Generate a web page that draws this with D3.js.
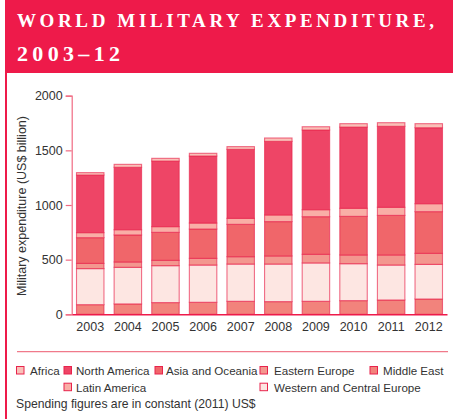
<!DOCTYPE html>
<html>
<head>
<meta charset="utf-8">
<script src="https://cdn.jsdelivr.net/npm/d3@7"></script>
<style>
  body { margin: 0; background: #fff; }
  text { font-family: "Liberation Sans", Arial, sans-serif; fill: #333; }
</style>
</head>
<body>
<div id="chart"></div>
<script>
// years and regional spending (US$ billion, constant 2011)
const years = ["2003","2004","2005","2006","2007","2008","2009","2010","2011","2012"];
const middleEast   = [88, 95, 107, 110, 119, 116, 119, 125, 131, 140];
const westEurope   = [330, 335, 338, 341, 341, 344, 351, 338, 320, 317];
const eastEurope   = [48, 49, 49, 61, 67, 74, 79, 80, 92, 101];
const asiaOceania  = [235, 247, 256, 268, 296, 314, 344, 353, 362, 381];
const latinAmerica = [46, 48, 52, 55, 55, 61, 64, 74, 74, 73];
const northAmerica = [527, 571, 600, 613, 631, 673, 729, 743, 741, 695];
const africa       = [22, 27, 25, 25, 25, 31, 30, 31, 33, 37];
const yTicks = [0, 500, 1000, 1500, 2000];

// stacking order bottom -> top
const seriesList = [
  {key: "Middle East", values: middleEast, color: "#f2837c"},
  {key: "Western and Central Europe", values: westEurope, color: "#fde6e2"},
  {key: "Eastern Europe", values: eastEurope, color: "#f3978f"},
  {key: "Asia and Oceania", values: asiaOceania, color: "#f0666a"},
  {key: "Latin America", values: latinAmerica, color: "#f9aea6"},
  {key: "North America", values: northAmerica, color: "#ee4566"},
  {key: "Africa", values: africa, color: "#f9c0b8"}
];

const W = 453, H = 419;
const red = "#ee1a4a";

const svg = d3.select("#chart").append("svg")
    .attr("width", W)
    .attr("height", H);

// header
svg.append("rect")
    .attr("x", 5).attr("y", 0)
    .attr("width", W - 5).attr("height", 73)
    .attr("fill", red);
svg.append("line")
    .attr("x1", 6).attr("x2", 6)
    .attr("y1", 0).attr("y2", H)
    .attr("stroke", red).attr("stroke-width", 2);

svg.append("text")
    .attr("x", 17).attr("y", 27)
    .attr("textLength", 417).attr("lengthAdjust", "spacing")
    .style("font-family", "'Liberation Serif', 'DejaVu Serif', serif")
    .style("font-weight", "bold")
    .style("font-size", "19px")
    .style("fill", "#fff")
    .text("WORLD MILITARY EXPENDITURE,");
svg.append("text")
    .attr("x", 17).attr("y", 61)
    .attr("textLength", 103).attr("lengthAdjust", "spacing")
    .style("font-family", "'Liberation Serif', 'DejaVu Serif', serif")
    .style("font-weight", "bold")
    .style("font-size", "22px")
    .style("fill", "#fff")
    .text("2003–12");

// scales
const x = d3.scaleBand()
    .domain(years)
    .range([72, 447])
    .paddingInner(0.27)
    .paddingOuter(0.12);

const y = d3.scaleLinear()
    .domain([0, 2000])
    .range([314.3, 95.7]);

// stacked data
const table = years.map((yr, i) => {
    let row = {year: yr};
    seriesList.forEach(s => row[s.key] = s.values[i]);
    return row;
});
const stacked = d3.stack().keys(seriesList.map(s => s.key))(table);

const plot = svg.append("g");

stacked.forEach((layer, li) => {
    plot.append("g")
        .selectAll("rect")
        .data(layer)
        .enter()
        .append("rect")
        .attr("x", d => x(d.data.year))
        .attr("width", x.bandwidth())
        .attr("y", d => y(d[1]))
        .attr("height", d => y(d[0]) - y(d[1]))
        .attr("fill", seriesList[li].color)
        .attr("stroke", "#e8234c")
        .attr("stroke-opacity", 0.65)
        .attr("stroke-width", 1.1);
});

// y axis
const yAxis = svg.append("g")
    .attr("transform", "translate(71.7,0)")
    .call(d3.axisLeft(y).tickValues(yTicks).tickFormat(d3.format("d")).tickSize(6).tickPadding(3));
yAxis.select(".domain").attr("stroke", "#f06a82").attr("stroke-width", 1.2);
yAxis.selectAll(".tick line").attr("stroke", "#f06a82").attr("stroke-width", 1.2);
yAxis.selectAll(".tick text")
    .style("font-family", "'Liberation Sans', Arial, sans-serif")
    .style("font-size", "12.5px")
    .attr("fill", "#333");

// x axis
const xAxis = svg.append("g")
    .attr("transform", "translate(0,314.3)")
    .call(d3.axisBottom(x).tickSize(0).tickPadding(8));
xAxis.select(".domain").attr("stroke", red).attr("stroke-width", 1.5);
xAxis.selectAll(".tick text")
    .style("font-family", "'Liberation Sans', Arial, sans-serif")
    .style("font-size", "12.5px")
    .attr("fill", "#333");

// y label
svg.append("text")
    .attr("transform", "translate(26,206) rotate(-90)")
    .attr("text-anchor", "middle")
    .style("font-size", "12.5px")
    .text("Military expenditure (US$ billion)");

// legend
svg.append("line")
    .attr("x1", 17).attr("x2", 448)
    .attr("y1", 351.7).attr("y2", 351.7)
    .attr("stroke", "#f07a8a").attr("stroke-width", 1.2);

const legendItems = [
    {key: "Africa", sx: 16.5, tx: 30, row: 0},
    {key: "North America", sx: 64, tx: 76, row: 0},
    {key: "Asia and Oceania", sx: 155, tx: 166, row: 0},
    {key: "Eastern Europe", sx: 260, tx: 274, row: 0},
    {key: "Middle East", sx: 370, tx: 383, row: 0},
    {key: "Latin America", sx: 64, tx: 76, row: 1},
    {key: "Western and Central Europe", sx: 260, tx: 274, row: 1}
];
const colorOf = k => seriesList.find(s => s.key === k).color;
const legend = svg.append("g");
legendItems.forEach(it => {
    const base = 375 + it.row * 16.7;
    legend.append("rect")
        .attr("x", it.sx).attr("y", base - 8.5)
        .attr("width", 7.5).attr("height", 7.5)
        .attr("fill", colorOf(it.key))
        .attr("stroke", "#e8234c").attr("stroke-width", 1);
    legend.append("text")
        .attr("x", it.tx).attr("y", base)
        .style("font-size", "11.6px")
        .text(it.key);
});
svg.append("text")
    .attr("x", 16).attr("y", 408)
    .style("font-size", "12.2px")
    .text("Spending figures are in constant (2011) US$");
</script>
</body>
</html>
